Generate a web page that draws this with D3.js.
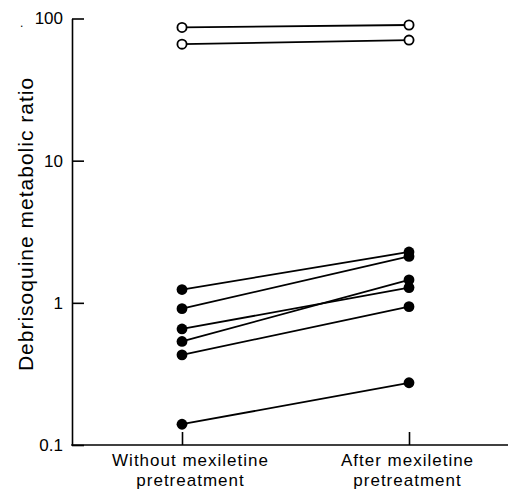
<!DOCTYPE html>
<html>
<head>
<meta charset="utf-8">
<script src="https://cdn.jsdelivr.net/npm/d3@7"></script>
<style>
  body { margin: 0; background: #fff; }
  svg text { font-family: "Liberation Sans", Arial, Helvetica, sans-serif; fill: #000; }
</style>
</head>
<body>
<div id="chart"></div>
<script>
// debrisoquine metabolic ratio, before / after mexiletine
var categories = ["without", "after"];
var categoryLabels = [
    ["Without mexiletine", "pretreatment"],
    ["After mexiletine", "pretreatment"]
];
var yTicks = [0.1, 1, 10, 100];
var yTickLabels = ["0.1", "1", "10", "100"];

// open circles (poor metabolisers)
var openBefore = [86.5, 66];
var openAfter  = [90, 70.5];

// filled circles (extensive metabolisers)
var filledBefore = [1.24, 0.91, 0.655, 0.535, 0.43, 0.14];
var filledAfter  = [2.28, 2.12, 1.28, 1.45, 0.94, 0.274];

(function () {
    'use strict';

    var w = 512, h = 490;
    var axisX = 72, axisY = 445, axisTop = 18.5, axisRight = 508;

    var svg = d3.select("#chart")
                .append("svg")
                .attr("width", w)
                .attr("height", h);

    var x = d3.scalePoint()
              .domain(categories)
              .range([182, 409]);

    var y = d3.scaleLog()
              .domain([0.1, 100])
              .range([axisY, axisTop]);

    // y axis, ticks pointing inward
    var yAxis = d3.axisLeft(y)
                  .tickValues(yTicks)
                  .tickFormat(function (d, i) { return yTickLabels[i]; })
                  .tickSizeInner(-12)
                  .tickSizeOuter(0)
                  .tickPadding(9);

    var gy = svg.append("g")
                .attr("transform", "translate(" + axisX + ",0)")
                .call(yAxis);
    gy.selectAll("text").style("font-size", "17px");
    gy.selectAll("path, line").attr("stroke", "#000").attr("stroke-width", 1.6);

    // x axis
    var xAxis = d3.axisBottom(x)
                  .tickSizeInner(-13)
                  .tickSizeOuter(0)
                  .tickFormat("");

    var gx = svg.append("g")
                .attr("transform", "translate(0," + axisY + ")")
                .call(xAxis);
    gx.select(".domain").remove();
    gx.selectAll("line").attr("stroke", "#000").attr("stroke-width", 1.6);
    gx.append("line")
      .attr("x1", axisX - 0.8).attr("x2", axisRight)
      .attr("stroke", "#000").attr("stroke-width", 1.6);

    // two-line category labels
    gx.selectAll(".tick").each(function (d, i) {
        var t = d3.select(this).append("text")
                  .attr("text-anchor", "middle")
                  .attr("transform", "translate(" + (i === 0 ? 8 : -2) + ",0)")
                  .style("font-size", "17px")
                  .style("letter-spacing", "1px");
        categoryLabels[i].forEach(function (line, j) {
            t.append("tspan")
             .attr("x", 0)
             .attr("y", 21 + j * 19.5)
             .text(line);
        });
    });

    // y axis title
    svg.append("text")
       .attr("transform", "translate(33,224) rotate(-90)")
       .attr("text-anchor", "middle")
       .style("font-size", "21px")
       .style("letter-spacing", "1px")
       .text("Debrisoquine metabolic ratio");

    svg.append("text")
       .attr("x", 20).attr("y", 27)
       .style("font-size", "12px")
       .text(".");

    function drawPairs(before, after, open) {
        var pairs = before.map(function (b, i) { return [b, after[i]]; });

        svg.selectAll(null)
           .data(pairs)
           .enter()
           .append("line")
           .attr("x1", x(categories[0]))
           .attr("x2", x(categories[1]))
           .attr("y1", function (d) { return y(d[0]); })
           .attr("y2", function (d) { return y(d[1]); })
           .attr("stroke", "#000")
           .attr("stroke-width", 1.8);

        var pts = [];
        pairs.forEach(function (d) {
            pts.push({ c: categories[0], v: d[0] });
            pts.push({ c: categories[1], v: d[1] });
        });

        svg.selectAll(null)
           .data(pts)
           .enter()
           .append("circle")
           .attr("cx", function (d) { return x(d.c); })
           .attr("cy", function (d) { return y(d.v); })
           .attr("r", open ? 4.6 : 5.4)
           .attr("fill", open ? "#fff" : "#000")
           .attr("stroke", "#000")
           .attr("stroke-width", open ? 1.8 : 0);
    }

    drawPairs(openBefore, openAfter, true);
    drawPairs(filledBefore, filledAfter, false);
})();
</script>
</body>
</html>
